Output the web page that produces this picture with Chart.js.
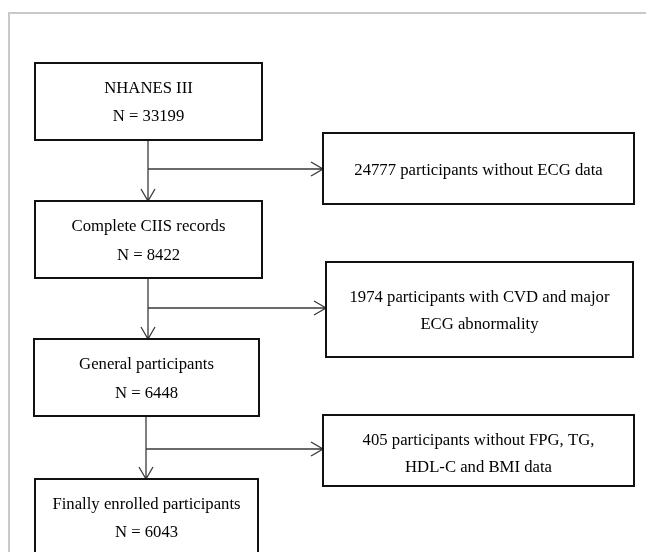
<!DOCTYPE html>
<html>
<head>
<meta charset="utf-8">
<script src="https://cdn.jsdelivr.net/npm/chart.js@4.4.1/dist/chart.umd.min.js"></script>
<style>
  body { margin: 0; background: #fff; }
  #chart { display: block; }
</style>
</head>
<body>
<canvas id="chart" width="646" height="552"></canvas>
<script>
'use strict';

// flow data
const stageNames = ['NHANES III', 'Complete CIIS records', 'General participants', 'Finally enrolled participants'];
const stageCounts = [33199, 8422, 6448, 6043];
const excludedCounts = [24777, 1974, 405];
const excludedReasons = [
    ['participants without ECG data'],
    ['participants with CVD and major', 'ECG abnormality'],
    ['participants without FPG, TG,', 'HDL-C and BMI data']
];

// layout (in chart units, same as pixels here)
const stageBoxes = [
    {x0: 35, x1: 262, y0: 63, y1: 140, lines: [89, 117]},
    {x0: 35, x1: 262, y0: 201, y1: 278, lines: [227, 256]},
    {x0: 34, x1: 259, y0: 339, y1: 416, lines: [365, 394]},
    {x0: 35, x1: 258, y0: 479, y1: 600, lines: [505, 533]}
];
const excludedBoxes = [
    {x0: 323, x1: 634, y0: 133, y1: 204, lines: [171]},
    {x0: 326, x1: 633, y0: 262, y1: 357, lines: [298, 325]},
    {x0: 323, x1: 634, y0: 415, y1: 486, lines: [441, 468]}
];
const trunkX = [148, 148, 146];
const branchY = [169, 308, 449];

function boxLines(i, excluded){
    if (excluded){
        let reason = excludedReasons[i];
        let out = [excludedCounts[i] + ' ' + reason[0]];
        for (let k = 1; k < reason.length; k++){
            out.push(reason[k]);
        }
        return out;
    }
    return [stageNames[i], 'N = ' + stageCounts[i]];
}

const flowPlugin = {
    id: 'flow',
    afterDraw(chart){
        let ctx = chart.ctx;
        let xs = chart.scales.x;
        let ys = chart.scales.y;
        let px = v => xs.getPixelForValue(v);
        let py = v => ys.getPixelForValue(v);

        ctx.save();

        // outer frame
        ctx.strokeStyle = '#c9c9c9';
        ctx.lineWidth = 2;
        ctx.beginPath();
        ctx.moveTo(px(9), py(560));
        ctx.lineTo(px(9), py(13));
        ctx.lineTo(px(650), py(13));
        ctx.stroke();

        // connectors
        ctx.strokeStyle = '#3a3a3a';
        ctx.lineWidth = 1.3;
        for (let i = 0; i < excludedCounts.length; i++){
            let from = stageBoxes[i];
            let to = stageBoxes[i + 1];
            let side = excludedBoxes[i];
            let x = trunkX[i];
            ctx.beginPath();
            ctx.moveTo(px(x), py(from.y1));
            ctx.lineTo(px(x), py(to.y0));
            ctx.moveTo(px(x - 7), py(to.y0 - 12));
            ctx.lineTo(px(x), py(to.y0));
            ctx.lineTo(px(x + 7), py(to.y0 - 12));
            ctx.moveTo(px(x), py(branchY[i]));
            ctx.lineTo(px(side.x0), py(branchY[i]));
            ctx.moveTo(px(side.x0 - 12), py(branchY[i] - 7));
            ctx.lineTo(px(side.x0), py(branchY[i]));
            ctx.lineTo(px(side.x0 - 12), py(branchY[i] + 7));
            ctx.stroke();
        }

        // boxes + text
        ctx.font = '16.7px "Liberation Serif", "Times New Roman", serif';
        ctx.textAlign = 'center';
        ctx.textBaseline = 'middle';
        let drawBox = (b, lines) => {
            ctx.strokeStyle = '#111';
            ctx.lineWidth = 2;
            ctx.strokeRect(px(b.x0), py(b.y0), px(b.x1) - px(b.x0), py(b.y1) - py(b.y0));
            ctx.fillStyle = '#000';
            let cx = px((b.x0 + b.x1) / 2);
            for (let k = 0; k < lines.length; k++){
                ctx.fillText(lines[k], cx, py(b.lines[k]));
            }
        };
        for (let i = 0; i < stageBoxes.length; i++){
            drawBox(stageBoxes[i], boxLines(i, false));
        }
        for (let i = 0; i < excludedBoxes.length; i++){
            drawBox(excludedBoxes[i], boxLines(i, true));
        }

        ctx.restore();
    }
};

let ctx = document.getElementById('chart').getContext('2d');
let chart = new Chart(ctx, {
    type: 'scatter',
    data: {
        datasets: [{
            label: 'Participants',
            data: [],
            pointRadius: 0
        }]
    },
    options: {
        responsive: false,
        animation: false,
        layout: { padding: 0 },
        plugins: {
            legend: { display: false },
            tooltip: { enabled: false }
        },
        scales: {
            x: { type: 'linear', min: 0, max: 646, display: false },
            y: { type: 'linear', min: 0, max: 552, reverse: true, display: false }
        }
    },
    plugins: [flowPlugin]
});
</script>
</body>
</html>
